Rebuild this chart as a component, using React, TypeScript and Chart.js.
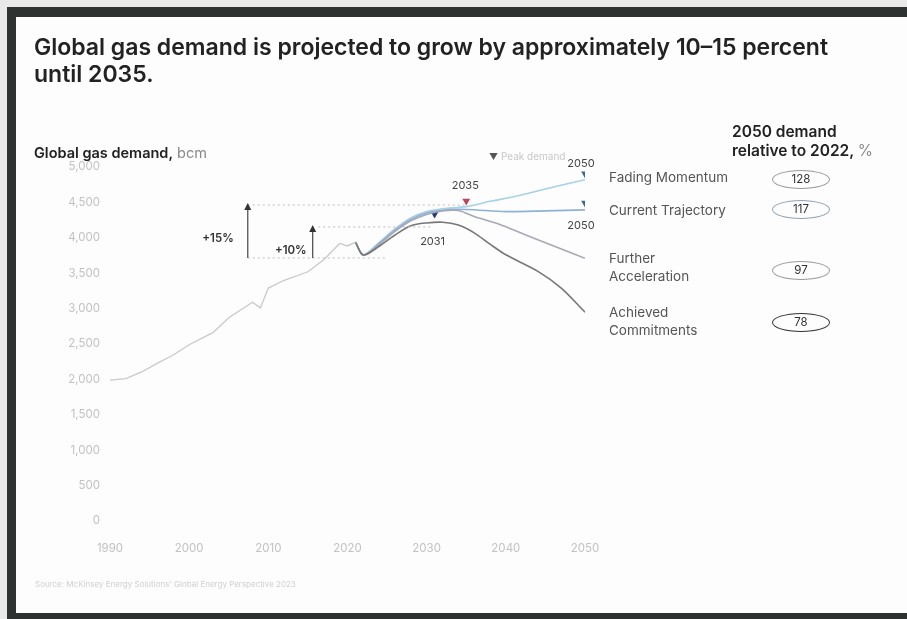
import React, { useEffect, useRef } from "react";
import { Chart, registerables } from "chart.js";

Chart.register(...registerables);

// ---------- data ----------
const histYears = [1990, 1992, 1994, 1996, 1998, 2000, 2003, 2005, 2008, 2009, 2010, 2012, 2015, 2017, 2019, 2020, 2021];
const histValues = [1990, 2010, 2105, 2230, 2345, 2490, 2660, 2870, 3090, 3010, 3290, 3400, 3520, 3690, 3920, 3885, 3940];

const fmYears = [2021, 2022, 2024, 2026, 2028, 2030, 2032, 2035, 2038, 2041, 2045, 2050];
const fmValues = [3940, 3757, 3935, 4125, 4280, 4370, 4410, 4440, 4515, 4580, 4690, 4820];

const ctYears = [2021, 2022, 2024, 2026, 2028, 2030, 2032, 2035, 2040, 2045, 2050];
const ctValues = [3940, 3757, 3920, 4110, 4260, 4350, 4390, 4400, 4370, 4380, 4395];

const faYears = [2021, 2022, 2024, 2026, 2028, 2030, 2032, 2034, 2036, 2039, 2041, 2045, 2050];
const faValues = [3940, 3757, 3905, 4090, 4240, 4330, 4380, 4385, 4300, 4200, 4110, 3930, 3710];

const acYears = [2021, 2022, 2024, 2026, 2028, 2030, 2032, 2034, 2036, 2038, 2040, 2044, 2047, 2050];
const acValues = [3940, 3757, 3880, 4040, 4170, 4210, 4220, 4180, 4070, 3910, 3760, 3530, 3290, 2950];

const peakYears = [2031, 2035, 2050, 2050];
const peakValues = [4335, 4520, 4905, 4490];
const peakColors = ["#2c3a78", "#b5485c", "#3a6b96", "#3a6b96"];
const peakLabels = ["2031", "2035", "2050", "2050"];
const peakLabelBelow = [true, false, false, true];

const baseLevel = 3715;
const plus10Level = 4153;
const plus15Level = 4463;
const baseSpan = [2007.4, 2025];
const plus10Span = [2016.3, 2030.8];
const plus15Span = [2007.4, 2035];
const arrow15Year = 2007.4;
const arrow10Year = 2015.6;

const xTicks = [1990, 2000, 2010, 2020, 2030, 2040, 2050];

const scenarioNames = ["Fading Momentum", "Current Trajectory", "Further\nAcceleration", "Achieved\nCommitments"];
const scenarioPct = ["128", "117", "97", "78"];

const FONT = "Inter, 'Liberation Sans', sans-serif";

const pts = (xs: number[], ys: number[]) => xs.map((x, i) => ({ x, y: ys[i] }));

const annotationPlugin = {
  id: "annot",
  afterDatasetsDraw(chart: any) {
    const { ctx, scales } = chart;
    const xs = scales.x;
    const ys = scales.y;
    ctx.save();
    const drawArrow = (year: number, from: number, to: number, label: string, labelDx: number, labelDy: number) => {
      const x = xs.getPixelForValue(year);
      const y0 = ys.getPixelForValue(from);
      const y1 = ys.getPixelForValue(to);
      ctx.strokeStyle = "#555";
      ctx.lineWidth = 1.3;
      ctx.beginPath();
      ctx.moveTo(x, y0);
      ctx.lineTo(x, y1 + 4);
      ctx.stroke();
      ctx.fillStyle = "#333";
      ctx.beginPath();
      ctx.moveTo(x, y1 - 2);
      ctx.lineTo(x - 3.5, y1 + 5);
      ctx.lineTo(x + 3.5, y1 + 5);
      ctx.closePath();
      ctx.fill();
      ctx.fillStyle = "#333";
      ctx.font = `600 11.5px ${FONT}`;
      ctx.textAlign = "right";
      ctx.textBaseline = "middle";
      ctx.fillText(label, x - labelDx, (y0 + y1) / 2 + labelDy);
    };
    drawArrow(arrow15Year, baseLevel, plus15Level, "+15%", 14, 7);
    drawArrow(arrow10Year, baseLevel, plus10Level, "+10%", 6, 8);
    ctx.font = `400 11px ${FONT}`;
    ctx.fillStyle = "#444";
    ctx.textAlign = "center";
    const offsets = [22, 10, 5, 17];
    const dxs = [-2, -1, -4, -4];
    peakYears.forEach((yr, i) => {
      const x = xs.getPixelForValue(yr);
      const y = ys.getPixelForValue(peakValues[i]);
      if (peakLabelBelow[i]) {
        ctx.textBaseline = "top";
        ctx.fillText(peakLabels[i], x + dxs[i], y + offsets[i]);
      } else {
        ctx.textBaseline = "bottom";
        ctx.fillText(peakLabels[i], x + dxs[i], y - offsets[i]);
      }
    });
    ctx.restore();
  },
};

function ChartCanvas() {
  const ref = useRef<HTMLCanvasElement | null>(null);
  useEffect(() => {
    if (!ref.current) return;
    const dashed = (xs: number[], level: number) => ({
      data: [
        { x: xs[0], y: level },
        { x: xs[1], y: level },
      ],
      borderColor: "#bdbdbd",
      borderWidth: 1,
      borderDash: [2, 3],
      pointRadius: 0,
    });
    const chart = new Chart(ref.current, {
      type: "line",
      data: {
        datasets: [
          dashed(baseSpan, baseLevel) as any,
          dashed(plus10Span, plus10Level) as any,
          dashed(plus15Span, plus15Level) as any,
          { data: pts(histYears, histValues), borderColor: "#c9c9c9", borderWidth: 1.3, pointRadius: 0, tension: 0 },
          { data: pts(acYears, acValues), borderColor: "#777777", borderWidth: 1.6, pointRadius: 0, tension: 0.3 },
          { data: pts(faYears, faValues), borderColor: "#a7a9b4", borderWidth: 1.6, pointRadius: 0, tension: 0.3 },
          { data: pts(ctYears, ctValues), borderColor: "#8fb0d8", borderWidth: 1.6, pointRadius: 0, tension: 0.3 },
          { data: pts(fmYears, fmValues), borderColor: "#a6d1e6", borderWidth: 1.6, pointRadius: 0, tension: 0.3 },
          {
            data: pts(peakYears, peakValues),
            showLine: false,
            pointStyle: "triangle",
            rotation: 180,
            pointRadius: 4.5,
            pointBackgroundColor: peakColors,
            pointBorderColor: peakColors,
            borderWidth: 0,
          } as any,
        ],
      },
      options: {
        animation: false,
        responsive: false,
        devicePixelRatio: 1,
        layout: { padding: { left: 0, top: 167, right: 322, bottom: 58 } },
        plugins: { legend: { display: false }, tooltip: { enabled: false } },
        scales: {
          x: {
            type: "linear",
            min: 1990,
            max: 2050,
            afterBuildTicks: (s: any) => {
              s.ticks = xTicks.map((v) => ({ value: v }));
            },
            afterFit: (s: any) => {
              s.height = 40;
            },
            ticks: {
              color: "#c2c2c2",
              font: { size: 11.5, family: FONT },
              padding: 21,
              maxRotation: 0,
              callback: (v: any) => String(v),
            },
            grid: { display: false, drawTicks: false },
            border: { display: false },
          },
          y: {
            min: 0,
            max: 5000,
            afterFit: (s: any) => {
              s.width = 110;
            },
            ticks: {
              stepSize: 500,
              color: "#c2c2c2",
              font: { size: 11.5, family: FONT },
              padding: 10,
              callback: (v: any) => Number(v).toLocaleString("en-US"),
            },
            grid: { display: false, drawTicks: false },
            border: { display: false },
          },
        },
      },
      plugins: [annotationPlugin],
    });
    return () => chart.destroy();
  }, []);
  return <canvas ref={ref} width={907} height={619} style={{ position: "absolute", left: 0, top: 0 }} />;
}

export default function App() {
  useEffect(() => {
    document.body.style.margin = "0";
  }, []);
  const labelTops = [168, 201, 249, 303];
  const badgeTops = [170, 200, 261, 313];
  const badgeBorders = ["#9a9a9a", "#8ea3bb", "#9a9a9a", "#333"];
  return (
    <div
      style={{
        position: "absolute",
        left: 0,
        top: 0,
        width: 907,
        height: 619,
        background: "#e9e9e9",
        overflow: "hidden",
        fontFamily: FONT,
      }}
    >
      <div
        style={{
          position: "absolute",
          left: 7,
          top: 7,
          width: 907,
          height: 620,
          background: "#2e3331",
        }}
      />
      <div
        style={{
          position: "absolute",
          left: 16,
          top: 17,
          width: 891,
          height: 596,
          background: "#fdfdfd",
        }}
      />
      <ChartCanvas />
      <div
        style={{
          position: "absolute",
          left: 34,
          top: 34,
          fontSize: 23,
          fontWeight: 600,
          color: "#222",
          lineHeight: "27px",
          whiteSpace: "nowrap",
        }}
      >
        Global gas demand is projected to grow by approximately 10–15 percent
        <br />
        until 2035.
      </div>
      <div
        style={{
          position: "absolute",
          left: 34,
          top: 144,
          fontSize: 14.5,
          lineHeight: "18px",
          color: "#222",
          whiteSpace: "nowrap",
        }}
      >
        <b style={{ fontWeight: 600 }}>Global gas demand,</b> <span style={{ color: "#888" }}>bcm</span>
      </div>
      <div
        style={{
          position: "absolute",
          left: 732,
          top: 122,
          fontSize: 15.5,
          lineHeight: "19px",
          color: "#222",
          fontWeight: 600,
          whiteSpace: "nowrap",
        }}
      >
        2050 demand
        <br />
        relative to 2022, <span style={{ fontWeight: 400, color: "#888" }}>%</span>
      </div>
      <div style={{ position: "absolute", left: 489, top: 150, fontSize: 10, color: "#c8c8c8", whiteSpace: "nowrap" }}>
        <span style={{ color: "#555", fontSize: 9 }}>▼</span> Peak demand
      </div>
      {scenarioNames.map((n, i) => (
        <div
          key={n}
          style={{
            position: "absolute",
            left: 609,
            top: labelTops[i],
            fontSize: 13.5,
            lineHeight: "18px",
            color: "#555",
            whiteSpace: "pre",
          }}
        >
          {n}
        </div>
      ))}
      {scenarioPct.map((p, i) => (
        <div
          key={p}
          style={{
            position: "absolute",
            left: 772,
            top: badgeTops[i],
            width: 56,
            height: 17,
            border: `1.2px solid ${badgeBorders[i]}`,
            borderRadius: "50%",
            fontSize: 11.5,
            lineHeight: "17px",
            textAlign: "center",
            color: "#333",
          }}
        >
          {p}
        </div>
      ))}
      <div style={{ position: "absolute", left: 35, top: 579, fontSize: 8, color: "#cfcfcf", whiteSpace: "nowrap" }}>
        Source: McKinsey Energy Solutions' Global Energy Perspective 2023
      </div>
    </div>
  );
}
